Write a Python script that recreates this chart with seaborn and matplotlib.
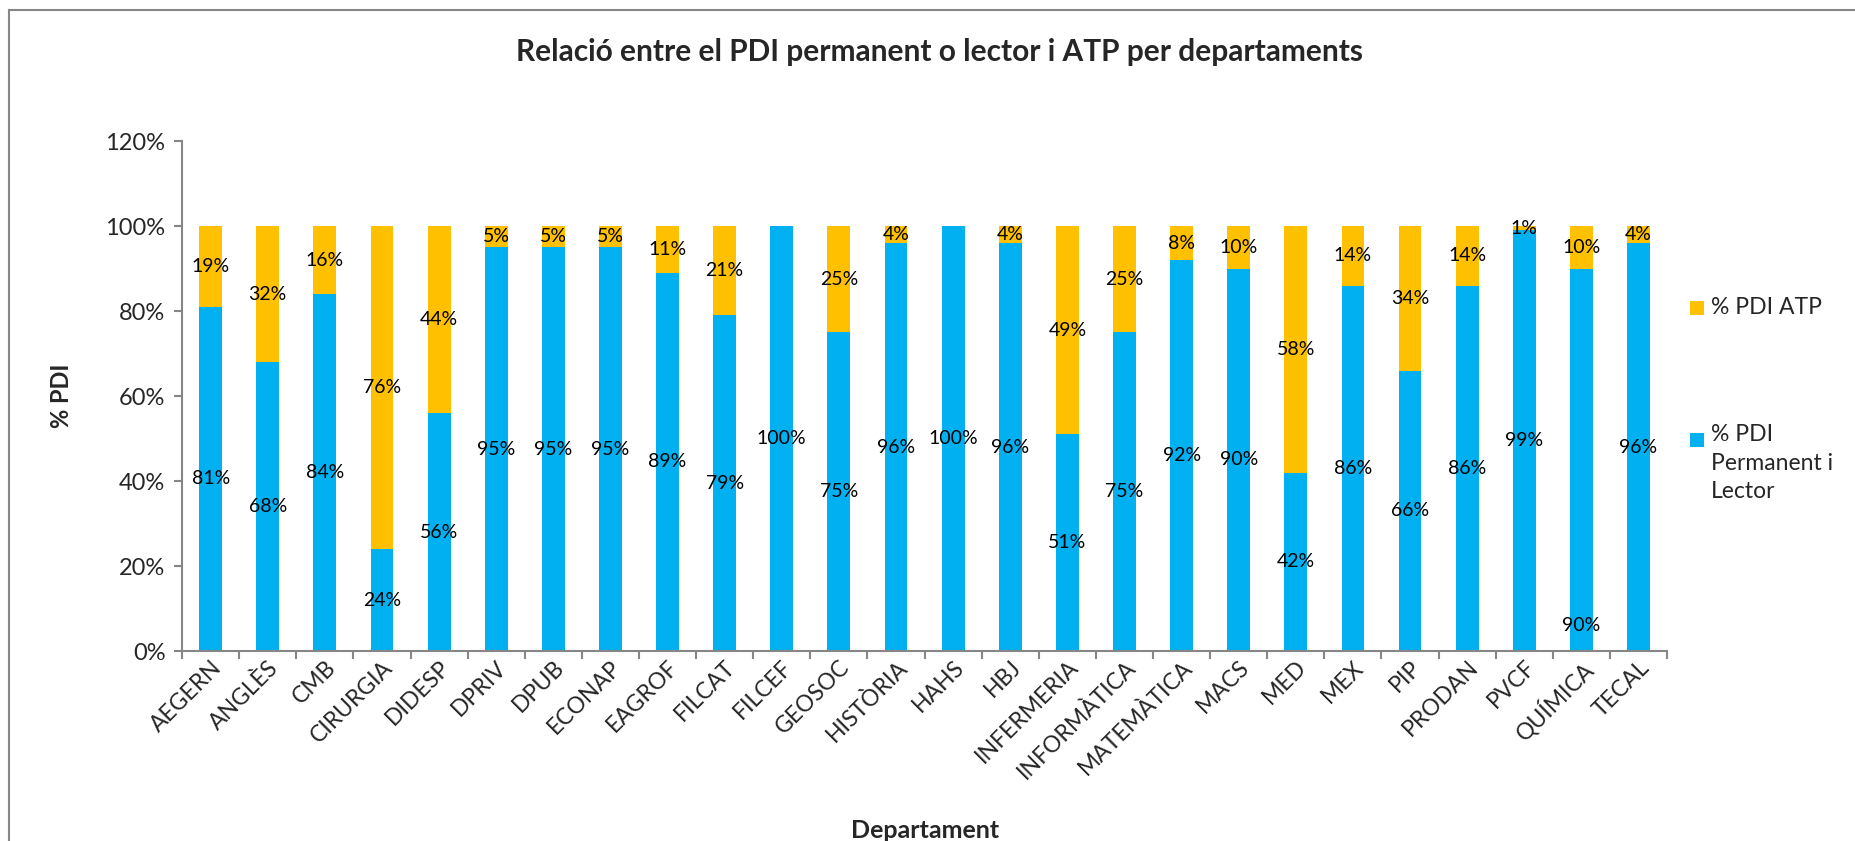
import matplotlib
matplotlib.use("Agg")
import matplotlib.pyplot as plt
from matplotlib.patches import Rectangle
from matplotlib.ticker import FixedLocator, PercentFormatter
import seaborn as sns
import pandas as pd

# dades llegides del gràfic (% sobre el total del departament)
departaments = ["AEGERN", "ANGLÈS", "CMB", "CIRURGIA", "DIDESP", "DPRIV", "DPUB",
                "ECONAP", "EAGROF", "FILCAT", "FILCEF", "GEOSOC", "HISTÒRIA", "HAHS",
                "HBJ", "INFERMERIA", "INFORMÀTICA", "MATEMÀTICA", "MACS", "MED", "MEX",
                "PIP", "PRODAN", "PVCF", "QUÍMICA", "TECAL"]
pdi_permanent = [81, 68, 84, 24, 56, 95, 95, 95, 89, 79, 100, 75, 96, 100,
                 96, 51, 75, 92, 90, 42, 86, 66, 86, 99, 90, 96]
pdi_atp = [19, 32, 16, 76, 44, 5, 5, 5, 11, 21, 0, 25, 4, 0,
           4, 49, 25, 8, 10, 58, 14, 34, 14, 1, 10, 4]

# a l'original l'etiqueta de QUÍMICA està moguda a baix de la barra
label_override = {"QUÍMICA": 6}

BLUE = "#00B0F0"
ORANGE = "#FFC000"
GREY = "#868686"

df = pd.DataFrame({"dep": departaments,
                   "perm": [v / 100 for v in pdi_permanent],
                   "atp": [v / 100 for v in pdi_atp]})
df["total"] = df["perm"] + df["atp"]

sns.set_theme(style="white")
plt.rcParams["font.family"] = ["Lato", "DejaVu Sans"]

fig = plt.figure(figsize=(18.56, 8.41), dpi=100)
ax = fig.add_axes([0.0981, 0.2259, 0.8001, 0.6064])

sns.barplot(data=df, x="dep", y="total", color=ORANGE, saturation=1, width=0.4,
            ax=ax, linewidth=0)
sns.barplot(data=df, x="dep", y="perm", color=BLUE, saturation=1, width=0.4,
            ax=ax, linewidth=0)

for i, row in df.iterrows():
    yb = row["perm"] / 2
    if row["dep"] in label_override:
        yb = label_override[row["dep"]] / 100
    ax.text(i, yb, f"{pdi_permanent[i]}%", ha="center", va="center", fontsize=14, color="black")
    if pdi_atp[i] > 0:
        ax.text(i, row["perm"] + row["atp"] / 2, f"{pdi_atp[i]}%", ha="center",
                va="center", fontsize=14, color="black")

ax.set_xlim(-0.5, len(departaments) - 0.5)
ax.set_ylim(0, 1.2)
ax.set_yticks([0, 0.2, 0.4, 0.6, 0.8, 1.0, 1.2])
ax.yaxis.set_major_formatter(PercentFormatter(1.0, decimals=0))
ax.xaxis.set_minor_locator(FixedLocator([k - 0.5 for k in range(len(departaments) + 1)]))

for s in ["top", "right"]:
    ax.spines[s].set_visible(False)
for s in ["left", "bottom"]:
    ax.spines[s].set_color(GREY)
    ax.spines[s].set_linewidth(1.5)

ax.tick_params(axis="y", which="major", left=True, length=6, width=1.5, color=GREY,
               labelsize=17, pad=6, direction="out")
ax.tick_params(axis="x", which="major", bottom=False, length=0, labelsize=16.5, pad=4)
ax.tick_params(axis="x", which="minor", bottom=True, length=6, width=1.5, color=GREY,
               direction="out")
plt.setp(ax.get_xticklabels(), rotation=45, ha="right", rotation_mode="anchor")

ax.set_ylabel("% PDI", fontsize=17, fontweight="bold")
ax.yaxis.set_label_coords(-0.0734, 0.5)
ax.set_xlabel("Departament", fontsize=18, fontweight="bold", va="center")
ax.xaxis.set_label_coords(0.5, -0.351)

fig.text(0.506, 0.938, "Relació entre el PDI permanent o lector i ATP per departaments",
         ha="center", va="center", fontsize=21.5, fontweight="bold")

# llegenda a mà, com l'Excel
fig.patches.append(Rectangle((1690 / 1856, 1 - 315 / 841), 14 / 1856, 14 / 841,
                             transform=fig.transFigure, facecolor=ORANGE, edgecolor="none"))
fig.text(1711 / 1856, 1 - 308 / 841, "% PDI ATP", ha="left", va="center", fontsize=16.5)
fig.patches.append(Rectangle((1690 / 1856, 1 - 447 / 841), 14 / 1856, 14 / 841,
                             transform=fig.transFigure, facecolor=BLUE, edgecolor="none"))
fig.text(1711 / 1856, 1 - 424 / 841, "% PDI\nPermanent i\nLector", ha="left", va="top",
         fontsize=16.5, linespacing=1.45)

# marc del gràfic
fig.patches.append(Rectangle((9 / 1856, -0.05), 1.1, 1 - 10 / 841 + 0.05,
                             transform=fig.transFigure, facecolor="none",
                             edgecolor=GREY, linewidth=1.5))

fig.savefig("out.png", dpi=100)
